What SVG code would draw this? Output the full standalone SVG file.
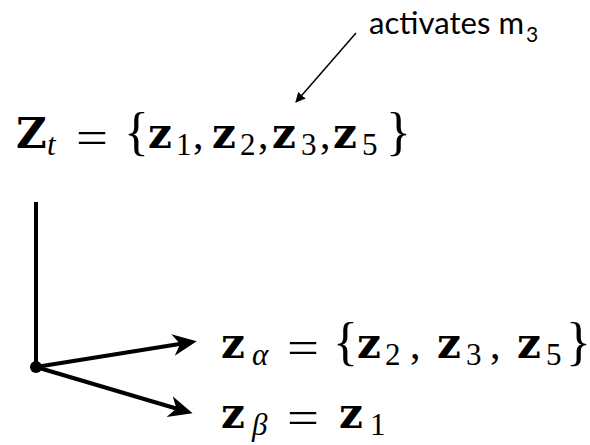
<svg xmlns="http://www.w3.org/2000/svg" width="590" height="445" viewBox="0 0 590 445">
<style>
.m{font-family:"Liberation Serif","Times New Roman",serif;fill:#000;font-size:31px}
.z{font-family:"DejaVu Serif",serif;font-weight:bold;font-size:42px}
.eq{font-size:46px}
.br{font-size:52px}
.cm{font-size:42px}
.i{font-style:italic}
.lab{font-family:"Lato","Open Sans",sans-serif;font-size:30px;fill:#000}
.c{stroke:#000;fill:none}
</style>
<defs>
<marker id="ah" viewBox="0 0 10 10" refX="9" refY="5" markerWidth="10" markerHeight="10" markerUnits="userSpaceOnUse" orient="auto">
<path d="M0,0 L10,5 L0,10 z" fill="#000"/>
</marker>
<marker id="ahb" viewBox="0 0 10 10" refX="8" refY="5" markerWidth="6" markerHeight="6" orient="auto">
<path d="M0,0.5 L10,5 L0,9.5 L3,5 z" fill="#000"/>
</marker>
</defs>
<g id="label">
<text class="lab" x="369" y="34"><tspan textLength="155" lengthAdjust="spacingAndGlyphs">activates m</tspan><tspan x="526" y="42" font-size="21">3</tspan></text>
</g>
<g id="zt">
<text class="m"><tspan class="z" x="16" y="148" font-size="41">Z</tspan><tspan class="i" x="47" y="155">t</tspan><tspan class="eq" x="76" y="153" textLength="32" lengthAdjust="spacingAndGlyphs">=</tspan><tspan class="br" x="124" y="149">{</tspan><tspan class="z" x="148" y="148">z</tspan><tspan x="176" y="155">1</tspan><tspan class="cm" x="193" y="148">,</tspan><tspan class="z" x="212" y="148">z</tspan><tspan x="240" y="155">2</tspan><tspan class="cm" x="258" y="148">,</tspan><tspan class="z" x="272" y="148">z</tspan><tspan x="301" y="155">3</tspan><tspan class="cm" x="320" y="148">,</tspan><tspan class="z" x="333" y="148">z</tspan><tspan x="362" y="155">5</tspan><tspan class="br" x="386" y="149">}</tspan></text>
</g>
<g id="za">
<text class="m"><tspan class="z" x="221" y="358">z</tspan><tspan class="i" x="252" y="365">α</tspan><tspan class="eq" x="287" y="363" textLength="32" lengthAdjust="spacingAndGlyphs">=</tspan><tspan class="br" x="333" y="359">{</tspan><tspan class="z" x="357" y="358">z</tspan><tspan x="385" y="365">2</tspan><tspan class="cm" x="410" y="358">,</tspan><tspan class="z" x="437" y="358">z</tspan><tspan x="466" y="365">3</tspan><tspan class="cm" x="490" y="358">,</tspan><tspan class="z" x="517" y="358">z</tspan><tspan x="546" y="365">5</tspan><tspan class="br" x="566" y="359">}</tspan></text>
</g>
<g id="zb">
<text class="m"><tspan class="z" x="221" y="428">z</tspan><tspan class="i" x="252" y="435">β</tspan><tspan class="eq" x="287" y="433" textLength="32" lengthAdjust="spacingAndGlyphs">=</tspan><tspan class="z" x="339" y="428">z</tspan><tspan x="370" y="435">1</tspan></text>
</g>
<g id="origin">
<circle cx="36" cy="367" r="6" fill="#000"/>
</g>
<g id="connectors">
<line class="c" x1="356" y1="33" x2="296" y2="102" stroke-width="1.5" marker-end="url(#ah)"/>
<line class="c" x1="36" y1="202" x2="36" y2="367" stroke-width="4"/>
<line class="c" x1="36" y1="367" x2="192" y2="342" stroke-width="4" marker-end="url(#ahb)"/>
<line class="c" x1="36" y1="367" x2="188" y2="412" stroke-width="4" marker-end="url(#ahb)"/>
</g>
</svg>
